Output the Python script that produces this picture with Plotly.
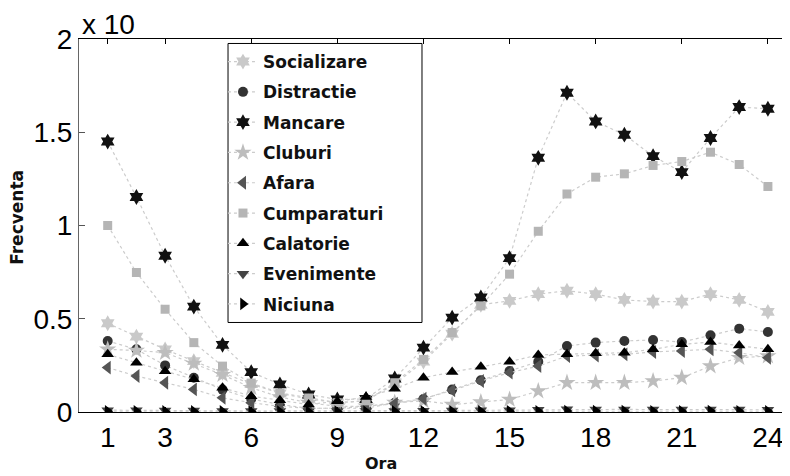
import plotly.graph_objects as go

hours = list(range(1, 25))

socializare = [0.476, 0.404, 0.336, 0.273, 0.21, 0.15, 0.10, 0.07, 0.05, 0.06, 0.15, 0.27,
               0.42, 0.575, 0.596, 0.632, 0.65, 0.632, 0.601, 0.592, 0.592, 0.632, 0.601, 0.537]
distractie = [0.381, 0.336, 0.25, 0.184, 0.12, 0.07, 0.04, 0.02, 0.02, 0.02, 0.05, 0.07,
              0.12, 0.17, 0.22, 0.27, 0.354, 0.372, 0.381, 0.386, 0.375, 0.411, 0.447, 0.429]
mancare = [1.45, 1.153, 0.838, 0.565, 0.36, 0.214, 0.148, 0.094, 0.067, 0.07, 0.18, 0.345,
           0.506, 0.614, 0.825, 1.363, 1.712, 1.558, 1.487, 1.372, 1.286, 1.469, 1.635, 1.626]
cluburi = [0.336, 0.33, 0.318, 0.26, 0.2, 0.13, 0.08, 0.05, 0.03, 0.03, 0.05, 0.06,
           0.04, 0.053, 0.067, 0.112, 0.157, 0.157, 0.157, 0.166, 0.184, 0.246, 0.291, 0.30]
afara = [0.238, 0.193, 0.157, 0.121, 0.076, 0.05, 0.03, 0.02, 0.02, 0.03, 0.045, 0.071,
         0.116, 0.166, 0.211, 0.246, 0.30, 0.303, 0.309, 0.322, 0.327, 0.336, 0.318, 0.291]
cumparaturi = [1.0, 0.748, 0.551, 0.372, 0.246, 0.155, 0.103, 0.075, 0.05, 0.06, 0.157, 0.282,
               0.426, 0.569, 0.739, 0.969, 1.169, 1.259, 1.277, 1.322, 1.343, 1.393, 1.327, 1.209]
calatorie = [0.309, 0.264, 0.219, 0.175, 0.13, 0.085, 0.063, 0.04, 0.058, 0.08, 0.125, 0.184,
             0.214, 0.243, 0.27, 0.306, 0.309, 0.315, 0.318, 0.336, 0.363, 0.375, 0.357, 0.336]
evenimente = [0.01, 0.01, 0.008, 0.008, 0.006, 0.005, 0.005, 0.004, 0.004, 0.005, 0.006, 0.007,
              0.008, 0.009, 0.01, 0.012, 0.015, 0.014, 0.014, 0.013, 0.013, 0.014, 0.013, 0.012]
niciuna = [0.004, 0.004, 0.003, 0.003, 0.003, 0.002, 0.002, 0.002, 0.002, 0.002, 0.003, 0.003,
           0.003, 0.003, 0.004, 0.004, 0.005, 0.005, 0.005, 0.004, 0.004, 0.005, 0.004, 0.004]

x_ticks = [1, 3, 6, 9, 12, 15, 18, 21, 24]
y_ticks = [0, 0.5, 1, 1.5, 2]
y_tick_labels = ["0", "0.5", "1", "1.5", "2"]

series = [
    ("Socializare", socializare, "hexagram", "#c9c9c9", 12),
    ("Distractie", distractie, "circle", "#333333", 10),
    ("Mancare", mancare, "hexagram", "#111111", 12),
    ("Cluburi", cluburi, "star", "#bdbdbd", 13),
    ("Afara", afara, "triangle-left", "#555555", 12),
    ("Cumparaturi", cumparaturi, "square", "#b5b5b5", 9),
    ("Calatorie", calatorie, "triangle-up", "#000000", 11),
    ("Evenimente", evenimente, "triangle-down", "#444444", 11),
    ("Niciuna", niciuna, "triangle-right", "#000000", 11),
]

fig = go.Figure()
for i, (name, vals, sym, col, sz) in enumerate(series):
    fig.add_trace(go.Scatter(
        x=hours, y=vals, name=name, mode="lines+markers",
        legendgroup="g%d" % i,
        line=dict(color="#cccccc", width=1.2, dash="dot"),
        marker=dict(symbol=sym, color=col, size=sz, line=dict(width=0)),
    ))

# the page body adds an 8px margin, so the figure is sized to fit the 790x476 window
fig.update_layout(
    width=782, height=468,
    margin=dict(l=71, r=0, t=31, b=64, autoexpand=False),
    paper_bgcolor="white", plot_bgcolor="white",
    showlegend=True,
    legend=dict(
        x=0.2025, y=0.9866, xanchor="left", yanchor="top",
        borderwidth=0, bgcolor="rgba(0,0,0,0)",
        font=dict(family="DejaVu Sans", size=17, color="#111111", weight="bold"),
        traceorder="grouped", tracegroupgap=5.2,
    ),
    shapes=[
        dict(type="rect", xref="paper", yref="paper", x0=0.2096, x1=0.4824,
             y0=0.24, y1=0.988, line=dict(color="#000", width=1),
             fillcolor="white", layer="above"),
    ],
    xaxis=dict(
        range=[0, 24.77], tickvals=x_ticks, ticktext=[str(t) for t in x_ticks],
        ticks="inside", ticklen=5, tickcolor="#000", showline=True, linecolor="#000",
        linewidth=1, mirror="ticks", showgrid=False, zeroline=False, automargin=False,
        tickfont=dict(family="Liberation Sans", size=28, color="#000"),
    ),
    yaxis=dict(
        range=[0, 2], tickvals=y_ticks, ticktext=y_tick_labels,
        ticks="inside", ticklen=6, tickcolor="#555", showline=True, linecolor="#666",
        linewidth=1, mirror=False, showgrid=False, zeroline=False, automargin=False,
        tickfont=dict(family="Liberation Sans", size=28, color="#000"),
    ),
    yaxis2=dict(
        range=[0, 2], tickvals=y_ticks, overlaying="y", side="right",
        ticks="inside", ticklen=5, tickcolor="#555", showline=False, automargin=False,
        showticklabels=False, showgrid=False, zeroline=False,
    ),
    annotations=[
        dict(text="x 10", xref="paper", yref="paper", x=0.0014, y=1.04,
             xanchor="left", yanchor="middle", showarrow=False,
             font=dict(family="Liberation Sans", size=28, color="#000")),
        dict(text="<b>Ora</b>", xref="paper", yref="paper", x=0.425, y=-0.1676,
             xanchor="center", yanchor="bottom", showarrow=False,
             font=dict(family="DejaVu Sans", size=16, color="#111")),
        dict(text="<b>Frecventa</b>", xref="paper", yref="paper", x=-0.087, y=0.521,
             xanchor="center", yanchor="middle", showarrow=False, textangle=-90,
             font=dict(family="DejaVu Sans", size=17, color="#111")),
    ],
)

fig.write_html("out.html")
